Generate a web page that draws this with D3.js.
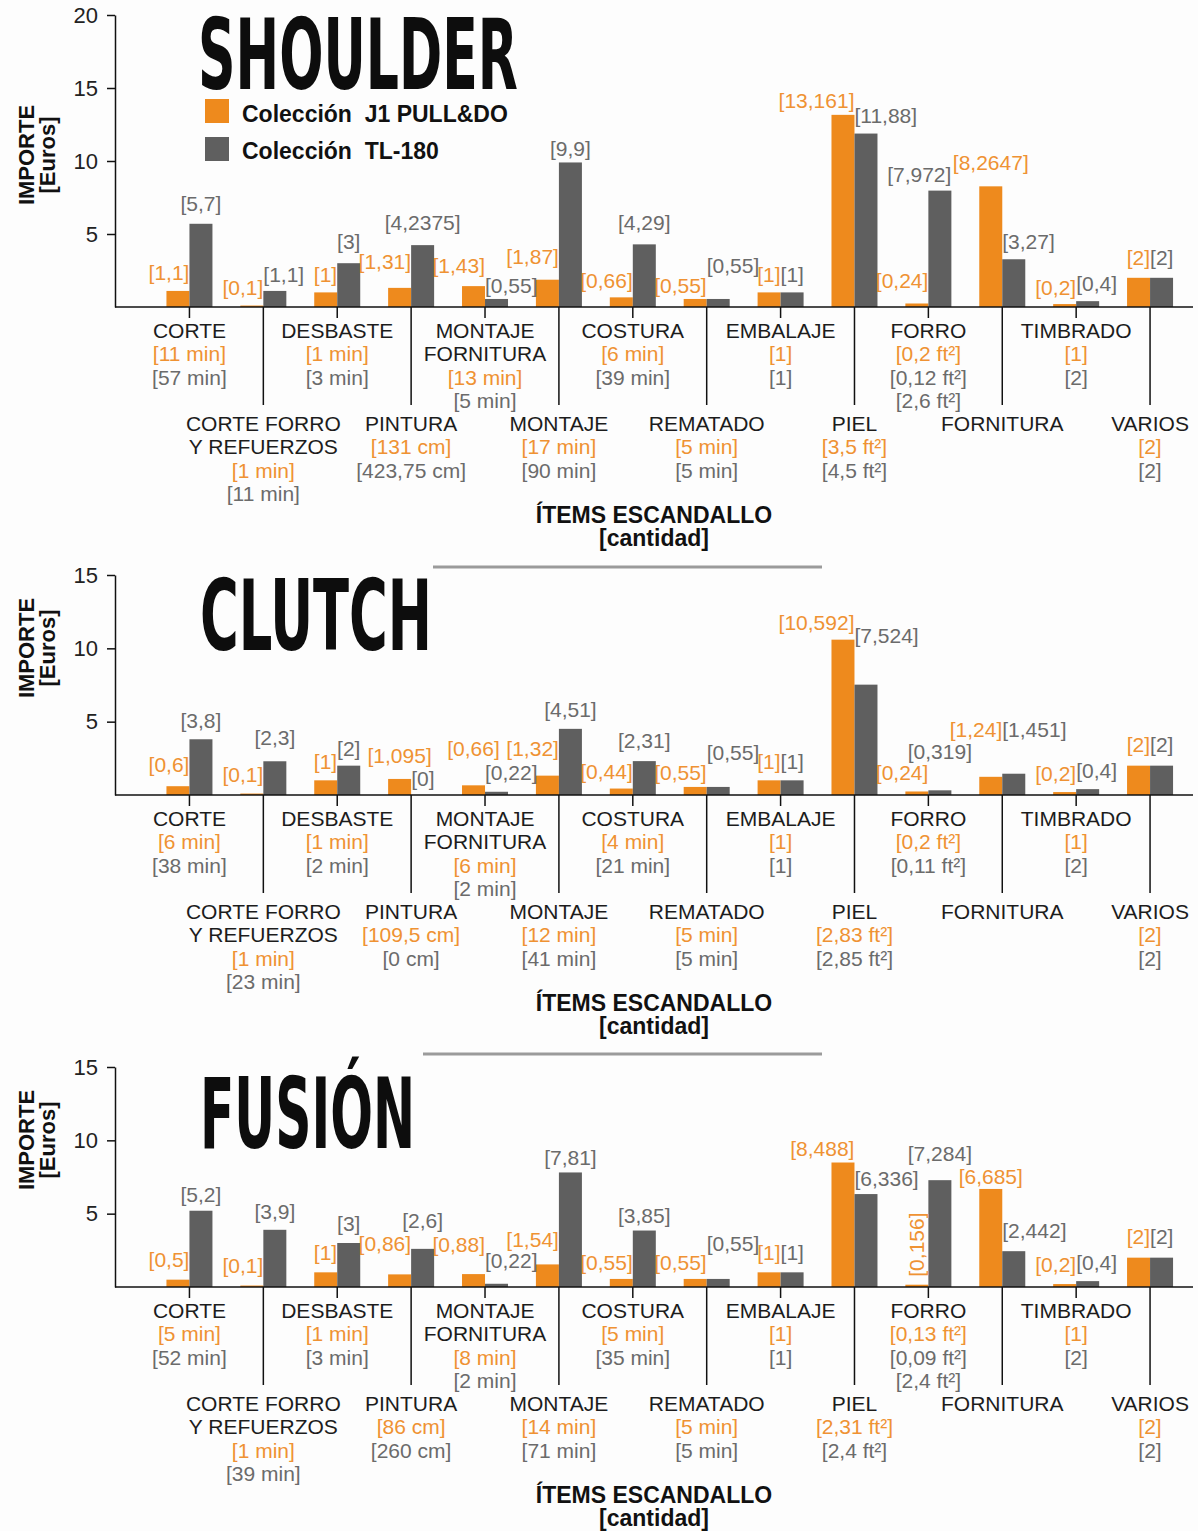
<!DOCTYPE html>
<html><head><meta charset="utf-8">
<script src="https://cdn.jsdelivr.net/npm/d3@7"></script>
<style>
body{margin:0;background:#fff;}
svg{display:block;font-family:"Liberation Sans",Arial,sans-serif;}
</style></head><body>
<svg id="c" width="1198" height="1531"></svg>
<script>
// ---------- DATA ----------
const categories = ["CORTE","CORTE FORRO Y REFUERZOS","DESBASTE","PINTURA","MONTAJE FORNITURA","MONTAJE","COSTURA","REMATADO","EMBALAJE","PIEL","FORRO","FORNITURA","TIMBRADO","VARIOS"];
const categoryLines = [["CORTE"],["CORTE FORRO","Y REFUERZOS"],["DESBASTE"],["PINTURA"],["MONTAJE","FORNITURA"],["MONTAJE"],["COSTURA"],["REMATADO"],["EMBALAJE"],["PIEL"],["FORRO"],["FORNITURA"],["TIMBRADO"],["VARIOS"]];
const seriesNames = ["Colección  J1 PULL&DO","Colección  TL-180"];
const chartTitles = ["SHOULDER","CLUTCH","FUSIÓN"];

const shoulderJ1 = [1.1,0.1,1,1.31,1.43,1.87,0.66,0.55,1,13.161,0.24,8.2647,0.2,2];
const shoulderTL = [5.7,1.1,3,4.2375,0.55,9.9,4.29,0.55,1,11.88,7.972,3.27,0.4,2];
const shoulderQtyJ1 = ["[11 min]","[1 min]","[1 min]","[131 cm]","[13 min]","[17 min]","[6 min]","[5 min]","[1]","[3,5 ft²]","[0,2 ft²]","","[1]","[2]"];
const shoulderQtyTL = [["[57 min]"],["[11 min]"],["[3 min]"],["[423,75 cm]"],["[5 min]"],["[90 min]"],["[39 min]"],["[5 min]"],["[1]"],["[4,5 ft²]"],["[0,12 ft²]","[2,6 ft²]"],[],["[2]"],["[2]"]];

const clutchJ1 = [0.6,0.1,1,1.095,0.66,1.32,0.44,0.55,1,10.592,0.24,1.24,0.2,2];
const clutchTL = [3.8,2.3,2,0,0.22,4.51,2.31,0.55,1,7.524,0.319,1.451,0.4,2];
const clutchQtyJ1 = ["[6 min]","[1 min]","[1 min]","[109,5 cm]","[6 min]","[12 min]","[4 min]","[5 min]","[1]","[2,83 ft²]","[0,2 ft²]","","[1]","[2]"];
const clutchQtyTL = [["[38 min]"],["[23 min]"],["[2 min]"],["[0 cm]"],["[2 min]"],["[41 min]"],["[21 min]"],["[5 min]"],["[1]"],["[2,85 ft²]"],["[0,11 ft²]"],[],["[2]"],["[2]"]];

const fusionJ1 = [0.5,0.1,1,0.86,0.88,1.54,0.55,0.55,1,8.488,0.156,6.685,0.2,2];
const fusionTL = [5.2,3.9,3,2.6,0.22,7.81,3.85,0.55,1,6.336,7.284,2.442,0.4,2];
const fusionQtyJ1 = ["[5 min]","[1 min]","[1 min]","[86 cm]","[8 min]","[14 min]","[5 min]","[5 min]","[1]","[2,31 ft²]","[0,13 ft²]","","[1]","[2]"];
const fusionQtyTL = [["[52 min]"],["[39 min]"],["[3 min]"],["[260 cm]"],["[2 min]"],["[71 min]"],["[35 min]"],["[5 min]"],["[1]"],["[2,4 ft²]"],["[0,09 ft²]","[2,4 ft²]"],[],["[2]"],["[2]"]];

const shoulderTicks = [5,10,15,20];
const smallTicks = [5,10,15];

// ---------- LABEL LAYOUT (anchor mode and lift in px above bar) ----------
const layout = {
  shoulder:{
    alignJ:["e","e","e","e","e","e","e","e","e","e","e","c","e","e"],
    alignT:["c","s","c","c","s","c","c","s","s","s","e","s","s","s"],
    liftJ:[11,11,10,19,13,16,9,6,10,7,15,16,9,13],
    liftT:[13,9,14,15,6,6,14,26,10,11,9,10,10,13]},
  clutch:{
    alignJ:["e","e","e","c","c","e","e","e","e","e","e","e","e","e"],
    alignT:["c","c","c","s","s","c","c","s","s","s","c","s","s","s"],
    liftJ:[14,12,11,16,29,20,10,7,11,10,11,40,11,14],
    liftT:[11,16,10,9,12,12,13,27,11,42,31,37,11,14]},
  fusion:{
    alignJ:["e","e","e","e","e","e","e","e","e","e","v","c","e","e"],
    alignT:["c","c","c","c","s","c","c","s","s","s","c","s","s","s"],
    liftJ:[13,13,12,23,22,17,9,9,12,7,8,5,12,14],
    liftT:[9,11,12,21,16,7,8,28,12,8,19,13,11,14]}
};

// ---------- STYLE ----------
const ORANGE = "#EE8A1D", GRAY = "#5F5F5F";
const ORANGE_T = "#EF9233", GRAY_T = "#6B6B6B";
const fmt = v => "[" + String(v).replace(".", ",") + "]";

const svg = d3.select("#c");
svg.append("rect").attr("width",1198).attr("height",1531).attr("fill","#fdfdfd");

const x = d3.scaleBand().domain(categories).range([152.5, 1187]).paddingInner(0).paddingOuter(0);
const cx = c => x(c) + x.bandwidth()/2;
const BW = 23;

const charts = [
  {title:chartTitles[0], j1:shoulderJ1, tl:shoulderTL, qJ:shoulderQtyJ1, qT:shoulderQtyTL, yMax:20, ticks:shoulderTicks, top:15, base:307, lay:layout.shoulder, legend:true, rule:null, tX:198, tW:320, tBase:89, yTitle:155},
  {title:chartTitles[1], j1:clutchJ1, tl:clutchTL, qJ:clutchQtyJ1, qT:clutchQtyTL, yMax:15, ticks:smallTicks, top:575, base:795, lay:layout.clutch, legend:false, rule:[433,822,567], tX:200, tW:232, tBase:650, yTitle:648},
  {title:chartTitles[2], j1:fusionJ1, tl:fusionTL, qJ:fusionQtyJ1, qT:fusionQtyTL, yMax:15, ticks:smallTicks, top:1067, base:1287, lay:layout.fusion, legend:false, rule:[423,822,1054], tX:200, tW:215, tBase:1148, yTitle:1140}
];

charts.forEach(ch => {
  const g = svg.append("g");
  const y = d3.scaleLinear().domain([0, ch.yMax]).range([ch.base, ch.top]);

  if (ch.rule) {
    g.append("line").attr("x1",ch.rule[0]).attr("x2",ch.rule[1]).attr("y1",ch.rule[2]).attr("y2",ch.rule[2])
      .attr("stroke","#9b9b9b").attr("stroke-width",3);
  }

  g.append("text").text(ch.title).attr("x",ch.tX).attr("y",ch.tBase)
    .attr("textLength",ch.tW).attr("lengthAdjust","spacingAndGlyphs")
    .style("font-family","'Liberation Sans Narrow','DejaVu Sans Condensed','Liberation Sans',sans-serif")
    .style("font-weight","bold").style("font-size","98px").attr("fill","#0d0d0d");

  const data = categories.map((c,i)=>({c,i,j:ch.j1[i],t:ch.tl[i]}));
  g.selectAll(".bj").data(data).join("rect")
    .attr("x",d=>cx(d.c)-BW).attr("width",BW)
    .attr("y",d=>y(d.j)).attr("height",d=>y(0)-y(d.j)).attr("fill",ORANGE);
  g.selectAll(".bt").data(data).join("rect")
    .attr("x",d=>cx(d.c)).attr("width",BW)
    .attr("y",d=>y(d.t)).attr("height",d=>y(0)-y(d.t)).attr("fill",GRAY);

  const labelPos = (d, which) => {
    const a = which==="j" ? ch.lay.alignJ[d.i] : ch.lay.alignT[d.i];
    const left = which==="j" ? cx(d.c)-BW : cx(d.c);
    if (a==="e") return {x:left+BW, anchor:"end"};
    if (a==="s") return {x:left, anchor:"start"};
    return {x:left+BW/2, anchor:"middle"};
  };
  data.forEach(d => {
    ["j","t"].forEach(w => {
      const v = w==="j" ? d.j : d.t;
      const lift = w==="j" ? ch.lay.liftJ[d.i] : ch.lay.liftT[d.i];
      const a = w==="j" ? ch.lay.alignJ[d.i] : ch.lay.alignT[d.i];
      const col = w==="j" ? ORANGE_T : GRAY_T;
      if (a==="v") {
        const xx = cx(d.c)-BW/2 + 7, yy = y(v)-lift;
        g.append("text").text(fmt(v)).attr("transform",`translate(${xx},${yy}) rotate(-90)`)
          .attr("fill",col).style("font-size","21px");
        return;
      }
      const p = labelPos(d,w);
      g.append("text").text(fmt(v)).attr("x",p.x).attr("y",y(v)-lift)
        .attr("text-anchor",p.anchor).attr("fill",col).style("font-size","21px");
    });
  });

  const ya = g.append("g").attr("transform","translate(115,0)")
    .call(d3.axisLeft(y).tickValues(ch.ticks).tickSize(8).tickSizeOuter(0).tickPadding(9));
  ya.select(".domain").attr("stroke","#111").attr("stroke-width",1.5);
  ya.selectAll(".tick line").attr("stroke","#111").attr("stroke-width",1.5);
  ya.selectAll(".tick text").style("font-size","22px").style("font-family","'Liberation Sans',Arial,sans-serif").attr("fill","#222");

  g.append("line").attr("x1",115).attr("x2",1193).attr("y1",ch.base).attr("y2",ch.base)
    .attr("stroke","#111").attr("stroke-width",1.5);

  const xa = g.append("g").attr("transform",`translate(0,${ch.base})`)
    .call(d3.axisBottom(x).tickSize(11).tickFormat(""));
  xa.select(".domain").remove();
  xa.selectAll(".tick line").attr("stroke","#111").attr("stroke-width",1.5)
    .attr("y2",(d,i)=> i%2 ? 98 : 11);

  data.forEach(d => {
    const row = d.i % 2;
    let yy = ch.base + (row===0 ? 31 : 124);
    const lines = [];
    categoryLines[d.i].forEach(t=>lines.push([t,"#1c1c1c"]));
    if (ch.qJ[d.i]) lines.push([ch.qJ[d.i],ORANGE_T]);
    ch.qT[d.i].forEach(t=>lines.push([t,GRAY_T]));
    lines.forEach((ln,k)=>{
      g.append("text").text(ln[0]).attr("x",cx(d.c)).attr("y",yy + k*23.4)
        .attr("text-anchor","middle").attr("fill",ln[1]).style("font-size","21px");
    });
  });

  g.append("text").text("ÍTEMS ESCANDALLO").attr("x",654).attr("y",ch.base+216)
    .attr("text-anchor","middle").style("font-weight","bold").style("font-size","23px").attr("fill","#111");
  g.append("text").text("[cantidad]").attr("x",654).attr("y",ch.base+239)
    .attr("text-anchor","middle").style("font-weight","bold").style("font-size","23px").attr("fill","#111");

  const yt = g.append("g").attr("transform",`translate(34,${ch.yTitle}) rotate(-90)`);
  yt.append("text").text("IMPORTE").attr("text-anchor","middle").style("font-weight","bold").style("font-size","22px").attr("fill","#111");
  yt.append("text").text("[Euros]").attr("y",21).attr("text-anchor","middle").style("font-weight","bold").style("font-size","22px").attr("fill","#111");

  if (ch.legend) {
    const lg = g.append("g");
    [[ORANGE,seriesNames[0],99,122],[GRAY,seriesNames[1],137,159]].forEach(r=>{
      lg.append("rect").attr("x",205).attr("y",r[2]).attr("width",24).attr("height",24).attr("fill",r[0]);
      lg.append("text").text(r[1]).attr("x",242).attr("y",r[3]).attr("xml:space","preserve")
        .style("white-space","pre").style("font-weight","bold").style("font-size","23px").attr("fill","#111");
    });
  }
});
</script>
</body></html>
